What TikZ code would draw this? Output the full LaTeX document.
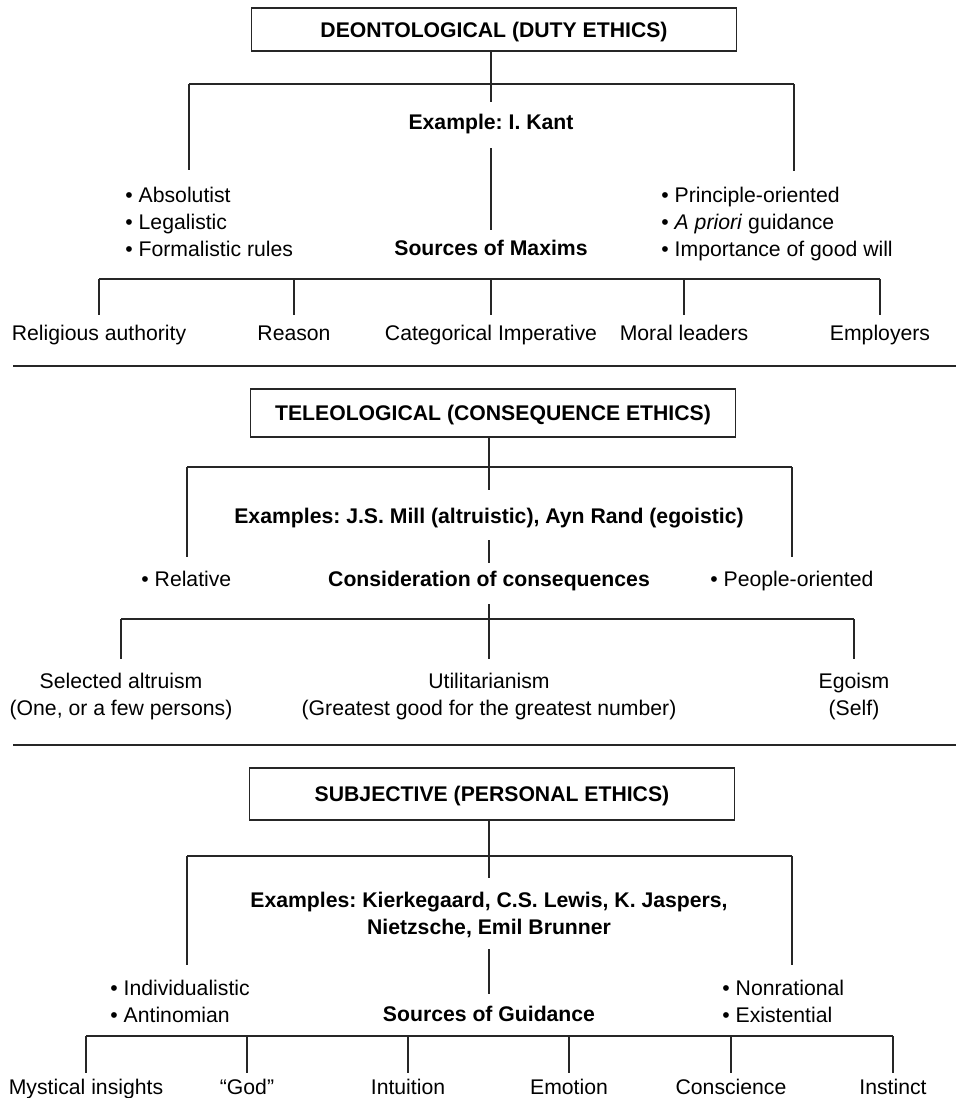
\documentclass[tikz,border=0pt]{standalone}
\usepackage{fontspec}
\setmainfont{Liberation Sans}
\usetikzlibrary{positioning}

\tikzset{
  link/.style={line width=.65pt, draw=black!85},
  titlebox/.style={draw=black!85, line width=.65pt, minimum width=242.5pt, inner sep=0pt, text height=7.6pt, text depth=0pt, font=\bfseries},
  headtxt/.style={inner sep=0pt, text height=7.6pt, text depth=2.2pt, yshift=-1pt, font=\bfseries},
  leaf/.style={inner sep=0pt, text height=7.6pt, text depth=2.2pt, yshift=-1pt},
  twoline/.style={inner sep=0pt, align=center, anchor=north, yshift=-1pt},
  bullets/.style={inner sep=0pt, align=left, anchor=north west, yshift=-1.5pt}
}

\begin{document}
\frenchspacing
\begin{tikzpicture}[x=0.5pt, y=-0.5pt]
				\useasboundingbox (0,0) rectangle (956,1098);
				\fontsize{10.6}{13.5}\selectfont
				%% deontological part
				\node[titlebox, minimum height=21.5pt] (dbox) at (494,29.5) {DEONTOLOGICAL (DUTY ETHICS)};
				\node[headtxt] (dex) at (491,122) {Example: I. Kant};
				\node[headtxt] (dsrc) at (491,248) {Sources of Maxims};
				\node[bullets] (dleft) at (125,184) {\textbullet\ Absolutist\\\textbullet\ Legalistic\\\textbullet\ Formalistic rules};
				\node[bullets] (dright) at (661,184) {\textbullet\ Principle-oriented\\\textbullet\ \textit{A priori} guidance\\\textbullet\ Importance of good will};
				\coordinate (d-stem) at (491,102);
				\coordinate (d-bar-l) at (189,84);
				\coordinate (d-bar-r) at (794,84);
				\coordinate (d-l-end) at (189,170);
				\coordinate (d-r-end) at (794,171);
				\coordinate (d-low-l) at (99,279);
				\coordinate (d-low-r) at (880,279);

				\draw[link] (dbox.south -| d-stem)--(d-stem);
				\draw[link] (d-bar-l)--(d-bar-r);
				\draw[link] (d-bar-l)--(d-l-end);
				\draw[link] (d-bar-r)--(d-r-end);
				\draw[link, shorten <=7.1pt, shorten >=5pt] (dex)--(dsrc);
				\draw[link] (d-low-l)--(d-low-r);
				\foreach \x/\n/\t in {99/rel/Religious authority, 294/rea/Reason, 491/cat/Categorical Imperative, 684/mor/Moral leaders, 880/emp/Employers}{
					\coordinate (d-\n-top) at (\x,279);
					\node[leaf] (d-\n) at (\x,333) {\t};
					\draw[link, shorten >=5pt] (d-\n-top)--(d-\n);
					}

				\draw[link] (13,366)--(956,366);

				%% teleological part
				\node[titlebox, minimum height=24pt] (tbox) at (493,413) {TELEOLOGICAL (CONSEQUENCE ETHICS)};
				\node[headtxt] (tex) at (489,516) {Examples: J.S. Mill (altruistic), Ayn Rand (egoistic)};
				\node[headtxt] (tcon) at (489,579) {Consideration of consequences};
				\node[leaf, anchor=west] (tleft) at (141,579) {\textbullet\ Relative};
				\node[leaf, anchor=west] (tright) at (710,579) {\textbullet\ People-oriented};
				\coordinate (t-stem) at (489,490);
				\coordinate (t-bar-l) at (187,467);
				\coordinate (t-bar-r) at (792,467);
				\coordinate (t-l-end) at (187,557);
				\coordinate (t-r-end) at (792,557);
				\coordinate (t-low-l) at (121,619);
				\coordinate (t-low-r) at (854,619);
				\coordinate (t-uti-top) at (489,659);

				\draw[link] (tbox.south -| t-stem)--(t-stem);
				\draw[link] (t-bar-l)--(t-bar-r);
				\draw[link] (t-bar-l)--(t-l-end);
				\draw[link] (t-bar-r)--(t-r-end);
				\draw[link, shorten <=6pt, shorten >=4pt] (tex)--(tcon);
				\draw[link, shorten <=6.5pt] (tcon)--(t-uti-top);
				\draw[link] (t-low-l)--(t-low-r);
				\node[twoline] (t-alt) at (121,671) {Selected altruism\\(One, or a few persons)};
				\node[twoline] (t-uti) at (489,671) {Utilitarianism\\(Greatest good for the greatest number)};
				\node[twoline] (t-ego) at (854,671) {Egoism\\(Self)};
				\draw[link, shorten >=7pt] (t-low-l)--(t-alt);
				\draw[link, shorten >=7pt] (t-low-r)--(t-ego);

				\draw[link] (13,745)--(956,745);

				%% subjective part
				\node[titlebox, minimum height=26pt] (sbox) at (492,794) {SUBJECTIVE (PERSONAL ETHICS)};
				\node[twoline, font=\bfseries] (sex) at (489,890) {Examples: Kierkegaard, C.S. Lewis, K. Jaspers,\\Nietzsche, Emil Brunner};
				\node[headtxt] (ssrc) at (489,1014) {Sources of Guidance};
				\node[bullets] (sleft) at (110,977) {\textbullet\ Individualistic\\\textbullet\ Antinomian};
				\node[bullets] (sright) at (722,977) {\textbullet\ Nonrational\\\textbullet\ Existential};
				\coordinate (s-stem) at (489,878);
				\coordinate (s-bar-l) at (187,856);
				\coordinate (s-bar-r) at (792,856);
				\coordinate (s-l-end) at (187,965);
				\coordinate (s-r-end) at (792,965);
				\coordinate (s-low-l) at (86,1036);
				\coordinate (s-low-r) at (893,1036);

				\draw[link] (sbox.south -| s-stem)--(s-stem);
				\draw[link] (s-bar-l)--(s-bar-r);
				\draw[link] (s-bar-l)--(s-l-end);
				\draw[link] (s-bar-r)--(s-r-end);
				\draw[link, shorten <=5.5pt, shorten >=6pt] (sex)--(ssrc);
				\draw[link] (s-low-l)--(s-low-r);
				\foreach \x/\n/\t in {86/mys/Mystical insights, 247/god/“God”, 408/int/Intuition, 569/emo/Emotion, 731/con/Conscience, 893/ins/Instinct}{
					\coordinate (s-\n-top) at (\x,1036);
					\node[leaf] (s-\n) at (\x,1087) {\t};
					\draw[link, shorten >=3pt] (s-\n-top)--(s-\n);
					}
				\end{tikzpicture}
\end{document}
